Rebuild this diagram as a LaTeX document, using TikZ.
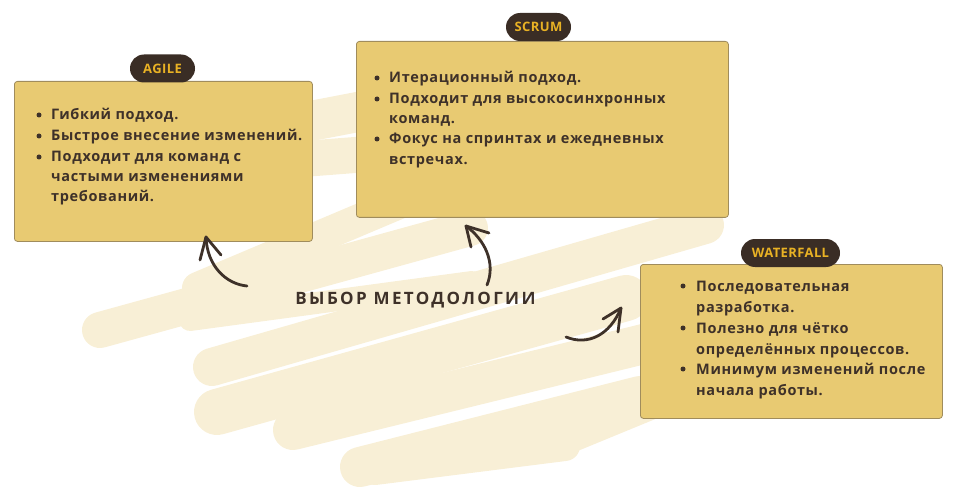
\documentclass[tikz,border=0pt]{standalone}
\usepackage{fontspec}
\setmainfont{Open Sans}
\newfontfamily\headfont{Open Sans}[LetterSpace=14]
\newfontfamily\bodyfont{Open Sans}[LetterSpace=4.5]
\newfontfamily\tagfont{Open Sans}[LetterSpace=3]
\definecolor{cream}{HTML}{F8EFD6}
\definecolor{boxfill}{HTML}{E8CA72}
\definecolor{boxborder}{HTML}{A08C5C}
\definecolor{tagfill}{HTML}{3A2D25}
\definecolor{tagtext}{HTML}{E9B224}
\definecolor{ink}{HTML}{3E3129}
\begin{document}
\begin{tikzpicture}[x=1pt,y=-1pt,
  box/.style={draw=boxborder, line width=0.8pt, fill=boxfill, rounded corners=3pt, anchor=north west, inner sep=0pt},
  tag/.style={fill=tagfill, rounded corners=14pt, minimum height=28pt, text=tagtext, inner sep=0pt, font=\tagfont\bfseries\fontsize{13}{15}\selectfont},
  txt/.style={anchor=base west, inner sep=0pt, text=ink, font=\bodyfont\bfseries\fontsize{14.5}{16}\selectfont},
  dot/.style={circle, fill=ink, inner sep=0pt, minimum size=5pt},
  brush/.style={draw=cream, line cap=round, line join=round},
  arr/.style={draw=ink, line width=2.8pt, line cap=round, line join=round}]
\useasboundingbox (0,0) rectangle (962,500);
% background scribble
\draw[brush, line width=40pt] (290,125) -- (420,100);
\draw[brush, line width=36pt] (290,160) -- (420,150);
\draw[brush, line width=32pt] (198,288) -- (430,190);
\draw[brush, line width=36pt] (100,330) -- (470,228);
\draw[brush, line width=22pt] (190,320) -- (472,282);
\draw[brush, line width=38pt] (212,367) -- (705,225);
\draw[brush, line width=46pt] (217,412) -- (626,298);
\draw[brush, line width=40pt] (293,430) -- (660,340);
\draw[brush, line width=40pt] (360,467) -- (640,396);
\draw[brush, line width=30pt] (375,470) -- (565,446);
\draw[brush, line width=30pt] (565,440) -- (650,405);
% boxes
\node[box, minimum width=298pt, minimum height=160pt] (agile) at (14,81) {};
\node[box, minimum width=372pt, minimum height=176pt] (scrum) at (356,41) {};
\node[box, minimum width=302pt, minimum height=154pt] (water) at (640,264) {};
% tags
\node[tag, minimum width=65pt] (agiletag) at (162.5,68.5) {AGILE};
\node[tag, minimum width=65pt] (scrumtag) at (538.5,27) {SCRUM};
\node[tag, minimum width=99pt] (watertag) at (790.5,253) {WATERFALL};
% AGILE text
\node[dot] (ad1) at (39,115) {};
\node[dot] (ad2) at (39,136) {};
\node[dot] (ad3) at (39,157) {};
\node[txt] (a1) at (51,120) {Гибкий подход.};
\node[txt] (a2) at (51,141) {Быстрое внесение изменений.};
\node[txt] (a3) at (51,162) {Подходит для команд с};
\node[txt] (a4) at (51,182) {частыми изменениями};
\node[txt] (a5) at (51,202) {требований.};
% SCRUM text
\node[dot] (sd1) at (377,78) {};
\node[dot] (sd2) at (377,99) {};
\node[dot] (sd3) at (377,139) {};
\node[txt] (s1) at (389,83) {Итерационный подход.};
\node[txt] (s2) at (389,104) {Подходит для высокосинхронных};
\node[txt] (s3) at (389,124) {команд.};
\node[txt] (s4) at (389,144) {Фокус на спринтах и ежедневных};
\node[txt] (s5) at (389,165) {встречах.};
% WATERFALL text
\node[dot] (wd1) at (683,286) {};
\node[dot] (wd2) at (683,328) {};
\node[dot] (wd3) at (683,369) {};
\node[txt] (w1) at (696,291) {Последовательная};
\node[txt] (w2) at (696,312) {разработка.};
\node[txt] (w3) at (696,333) {Полезно для чётко};
\node[txt] (w4) at (696,354) {определённых процессов.};
\node[txt] (w5) at (696,374) {Минимум изменений после};
\node[txt] (w6) at (696,395) {начала работы.};
% title
\node[text=ink, inner sep=0pt, font=\headfont\bfseries\fontsize{17}{19}\selectfont] (title) at (415.5,300) {ВЫБОР МЕТОДОЛОГИИ};
% arrows
\coordinate (L0) at (247,286); \coordinate (L1) at (206,237);
\coordinate (La) at (200,260); \coordinate (Lb) at (221,255);
\coordinate (M0) at (487,285); \coordinate (M1) at (466,226);
\coordinate (Ma) at (471,247); \coordinate (Mb) at (489,233);
\coordinate (R0) at (566,337); \coordinate (R1) at (621,308);
\coordinate (Ra) at (603,319); \coordinate (Rb) at (618,332);
\draw[arr] (L0) .. controls (226,284) and (207,266) .. (L1);
\draw[arr] (La) -- (L1) -- (Lb);
\draw[arr] (M0) .. controls (496,263) and (485,240) .. (M1);
\draw[arr] (Ma) -- (M1) -- (Mb);
\draw[arr] (R0) .. controls (588,346) and (610,335) .. (R1);
\draw[arr] (Ra) -- (R1) -- (Rb);
\end{tikzpicture}
\end{document}
